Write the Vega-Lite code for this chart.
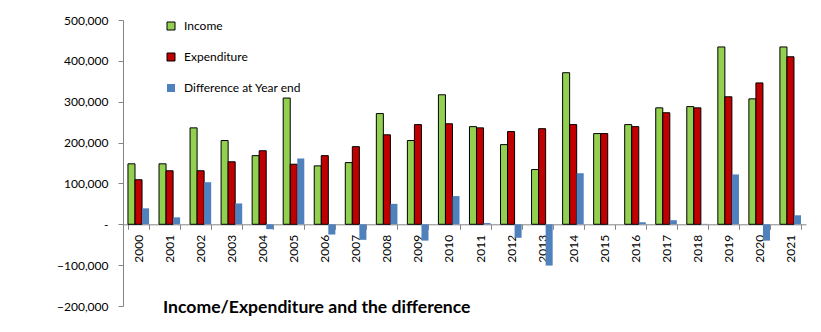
{
  "$schema": "https://vega.github.io/schema/vega-lite/v6.json",
  "width": 683,
  "height": 286,
  "autosize": {"type": "none"},
  "padding": {"left": 123, "top": 20, "right": 15, "bottom": 26},
  "background": "white",
  "config": {
    "view": {"stroke": null},
    "font": "Lato"
  },
  "title": {
    "text": "Income/Expenditure and the difference",
    "orient": "bottom",
    "anchor": "start",
    "frame": "group",
    "dx": 40,
    "offset": -13,
    "font": "Lato",
    "fontSize": 17.6,
    "fontWeight": "bold",
    "color": "#000"
  },
  "data": {
    "values": [
      {"year": "2000", "series": "Income", "value": 148000},
      {"year": "2000", "series": "Expenditure", "value": 109000},
      {"year": "2000", "series": "Difference at Year end", "value": 39000},
      {"year": "2001", "series": "Income", "value": 148000},
      {"year": "2001", "series": "Expenditure", "value": 131000},
      {"year": "2001", "series": "Difference at Year end", "value": 17000},
      {"year": "2002", "series": "Income", "value": 236000},
      {"year": "2002", "series": "Expenditure", "value": 131000},
      {"year": "2002", "series": "Difference at Year end", "value": 103000},
      {"year": "2003", "series": "Income", "value": 205000},
      {"year": "2003", "series": "Expenditure", "value": 153000},
      {"year": "2003", "series": "Difference at Year end", "value": 51000},
      {"year": "2004", "series": "Income", "value": 168000},
      {"year": "2004", "series": "Expenditure", "value": 180000},
      {"year": "2004", "series": "Difference at Year end", "value": -12000},
      {"year": "2005", "series": "Income", "value": 309000},
      {"year": "2005", "series": "Expenditure", "value": 147000},
      {"year": "2005", "series": "Difference at Year end", "value": 161000},
      {"year": "2006", "series": "Income", "value": 143000},
      {"year": "2006", "series": "Expenditure", "value": 168000},
      {"year": "2006", "series": "Difference at Year end", "value": -25000},
      {"year": "2007", "series": "Income", "value": 151000},
      {"year": "2007", "series": "Expenditure", "value": 190000},
      {"year": "2007", "series": "Difference at Year end", "value": -38000},
      {"year": "2008", "series": "Income", "value": 271000},
      {"year": "2008", "series": "Expenditure", "value": 219000},
      {"year": "2008", "series": "Difference at Year end", "value": 50000},
      {"year": "2009", "series": "Income", "value": 205000},
      {"year": "2009", "series": "Expenditure", "value": 244000},
      {"year": "2009", "series": "Difference at Year end", "value": -40000},
      {"year": "2010", "series": "Income", "value": 317000},
      {"year": "2010", "series": "Expenditure", "value": 246000},
      {"year": "2010", "series": "Difference at Year end", "value": 69000},
      {"year": "2011", "series": "Income", "value": 239000},
      {"year": "2011", "series": "Expenditure", "value": 236000},
      {"year": "2011", "series": "Difference at Year end", "value": 3000},
      {"year": "2012", "series": "Income", "value": 195000},
      {"year": "2012", "series": "Expenditure", "value": 227000},
      {"year": "2012", "series": "Difference at Year end", "value": -33000},
      {"year": "2013", "series": "Income", "value": 134000},
      {"year": "2013", "series": "Expenditure", "value": 234000},
      {"year": "2013", "series": "Difference at Year end", "value": -101000},
      {"year": "2014", "series": "Income", "value": 371000},
      {"year": "2014", "series": "Expenditure", "value": 244000},
      {"year": "2014", "series": "Difference at Year end", "value": 125000},
      {"year": "2015", "series": "Income", "value": 222000},
      {"year": "2015", "series": "Expenditure", "value": 222000},
      {"year": "2015", "series": "Difference at Year end", "value": 0},
      {"year": "2016", "series": "Income", "value": 244000},
      {"year": "2016", "series": "Expenditure", "value": 239000},
      {"year": "2016", "series": "Difference at Year end", "value": 5000},
      {"year": "2017", "series": "Income", "value": 285000},
      {"year": "2017", "series": "Expenditure", "value": 273000},
      {"year": "2017", "series": "Difference at Year end", "value": 10000},
      {"year": "2018", "series": "Income", "value": 288000},
      {"year": "2018", "series": "Expenditure", "value": 285000},
      {"year": "2018", "series": "Difference at Year end", "value": 1000},
      {"year": "2019", "series": "Income", "value": 434000},
      {"year": "2019", "series": "Expenditure", "value": 312000},
      {"year": "2019", "series": "Difference at Year end", "value": 122000},
      {"year": "2020", "series": "Income", "value": 307000},
      {"year": "2020", "series": "Expenditure", "value": 346000},
      {"year": "2020", "series": "Difference at Year end", "value": -40000},
      {"year": "2021", "series": "Income", "value": 434000},
      {"year": "2021", "series": "Expenditure", "value": 410000},
      {"year": "2021", "series": "Difference at Year end", "value": 22000}
    ]
  },
  "mark": {"type": "bar", "strokeWidth": 1},
  "encoding": {
    "x": {
      "field": "year",
      "type": "nominal",
      "scale": {"paddingInner": 0.32, "paddingOuter": 0.16},
      "axis": {
        "title": null,
        "orient": "bottom",
        "offset": -81.7,
        "labelAngle": 270,
        "labelFontSize": 12,
        "labelColor": "#000",
        "labelPadding": 5,
        "tickBand": "extent",
        "tickSize": 5,
        "tickColor": "#868686",
        "domainColor": "#868686",
        "labelFont": "Lato"
      }
    },
    "xOffset": {
      "field": "series",
      "type": "nominal",
      "sort": ["Income", "Expenditure", "Difference at Year end"],
      "scale": {"paddingInner": 0, "paddingOuter": 0}
    },
    "y": {
      "field": "value",
      "type": "quantitative",
      "scale": {"domain": [-200000, 500000], "nice": false, "zero": true},
      "axis": {
        "title": null,
        "values": [-200000, -100000, 0, 100000, 200000, 300000, 400000, 500000],
        "labelExpr": "datum.value == 0 ? '-' : format(datum.value, ',')",
        "grid": false,
        "labelFontSize": 12,
        "labelColor": "#000",
        "labelPadding": 10,
        "tickSize": 5,
        "tickColor": "#868686",
        "domainColor": "#868686",
        "labelFont": "Lato"
      }
    },
    "color": {
      "field": "series",
      "type": "nominal",
      "sort": ["Income", "Expenditure", "Difference at Year end"],
      "scale": {
        "domain": ["Income", "Expenditure", "Difference at Year end"],
        "range": ["#92D050", "#C00000", "#4F81BD"]
      },
      "legend": {
        "title": null,
        "orient": "none",
        "legendX": 42,
        "legendY": 0,
        "direction": "vertical",
        "symbolType": "square",
        "symbolSize": 64,
        "symbolStrokeWidth": 1,
        "rowPadding": 19,
        "labelFontSize": 12,
        "labelColor": "#000",
        "labelOffset": 7,
        "labelFont": "Lato"
      }
    },
    "stroke": {
      "field": "series",
      "type": "nominal",
      "sort": ["Income", "Expenditure", "Difference at Year end"],
      "scale": {
        "domain": ["Income", "Expenditure", "Difference at Year end"],
        "range": ["#000000", "#000000", "rgba(0,0,0,0)"]
      },
      "legend": {
        "title": null,
        "orient": "none",
        "legendX": 42,
        "legendY": 0,
        "direction": "vertical",
        "symbolType": "square",
        "symbolSize": 64,
        "symbolStrokeWidth": 1,
        "rowPadding": 19,
        "labelFontSize": 12,
        "labelColor": "#000",
        "labelOffset": 7,
        "labelFont": "Lato"
      }
    }
  }
}
